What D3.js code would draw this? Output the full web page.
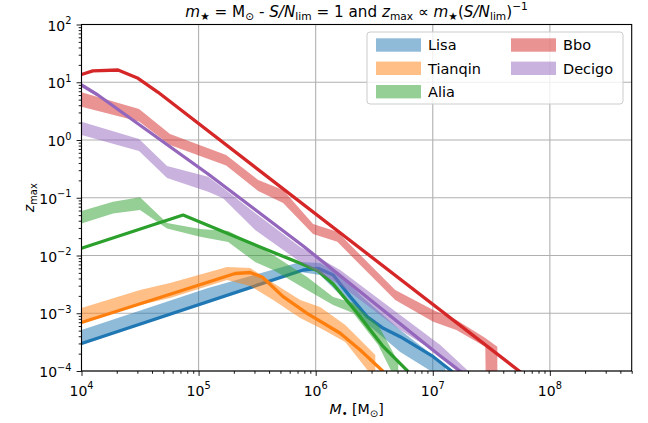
<!DOCTYPE html>
<html><head><meta charset="utf-8">
<script src="https://cdn.jsdelivr.net/npm/d3@7"></script>
<style>body{margin:0;background:#fff} text{font-family:"DejaVu Sans",sans-serif;fill:#000}</style>
</head><body><svg id="c" width="648" height="423"></svg>
<script>
// ---------- data ----------
const lisaBandX = [1e4, 1.205e5, 7.38e5, 1.09e6, 1.62e6, 2.40e6, 5.27e6, 1.28e7];
const lisaLo    = [2.82e-4, 0.00163, 0.00518, 0.00459, 0.00207, 8.28e-4, 2.13e-4, 6.98e-5];
const lisaHi    = [5.13e-4, 0.00274, 0.0077, 0.00741, 0.00459, 0.00207, 5.13e-4, 1.27e-4];
const lisaLineX = [1e4, 7.82e5, 1.05e6, 1.41e6, 1.97e6, 2.76e6, 3.78e6, 5.27e6, 1.01e7, 1.47e7];
const lisaLineY = [2.99e-4, 0.00561, 0.0060, 0.00459, 0.00194, 8.71e-4, 5.48e-4, 3.93e-4, 1.77e-4, 9.73e-5];

const tianqinBandX = [1e4, 3.16e4, 5.7e4, 1.75e5, 2.76e5, 4.34e5, 7.38e5, 1.09e6, 1.79e6, 3.23e6];
const tianqinLo    = [6.78e-4, 0.00139, 0.00184, 0.00377, 0.00296, 0.0017, 8.28e-4, 5.56e-4, 3.18e-4, 6.98e-5];
const tianqinHi    = [0.00123, 0.00253, 0.00334, 0.00632, 0.00608, 0.00334, 0.0017, 0.00128, 6.26e-4, 1.89e-4];
const tianqinLineX = [1e4, 2.05e5, 2.76e5, 3.49e5, 5.27e5, 8.45e5, 1.62e6, 2.40e6, 3.79e6];
const tianqinLineY = [6.92e-4, 0.00488, 0.00508, 0.00425, 0.00194, 9.98e-4, 4.50e-4, 2.31e-4, 9.73e-5];

const aliaBandX = [1e4, 1.86e4, 3.16e4, 5.38e4, 1.03e5, 1.79e5, 3.04e5, 4.34e5, 8.45e5, 1.41e6, 2.09e6, 3.42e6, 5.07e6];
const aliaLo    = [0.0358, 0.0533, 0.0614, 0.0294, 0.0212, 0.01714, 0.0077, 0.00561, 0.00253, 0.00139, 0.00101, 2.82e-4, 5.73e-5];
const aliaHi    = [0.059, 0.0855, 0.1018, 0.0366, 0.0288, 0.0265, 0.0152, 0.0102, 0.00425, 0.00191, 0.0015, 6.26e-4, 1.43e-4];
const aliaLineX = [1e4, 7.37e4, 3.56e5, 7.38e5, 1.05e6, 1.41e6, 2.26e6, 3.78e6, 6.18e6];
const aliaLineY = [0.01333, 0.0502, 0.01333, 0.00733, 0.0054, 0.00321, 0.00101, 2.64e-4, 9.73e-5];

const bboBandX = [1e4, 3.10e4, 5.7e4, 1.72e5, 3.23e5, 5.27e5, 9.5e5, 1.53e6, 2.18e6, 4.78e6, 1.01e7, 1.59e7, 2.81e7, 3.56e7];
const bboLo    = [3.77, 2.09, 0.82, 0.361, 0.131, 0.081, 0.0236, 0.0173, 0.00836, 0.00170, 7.14e-4, 5.13e-4, 2.64e-4, 1e-20];
const bboHi    = [6.70, 3.44, 1.27, 0.55, 0.203, 0.136, 0.0351, 0.0258, 0.01245, 0.00253, 0.001138, 7.64e-4, 3.73e-4, 2.64e-4];
const bboLineX = [1e4, 1.25e4, 2.05e4, 3.04e4, 4.51e4, 8.3e7];
const bboLineY = [13.6, 15.7, 16.3, 11.7, 6.7, 5.2e-5];

const decigoBandX = [1e4, 3.1e4, 5.38e4, 1.205e5, 1.62e5, 3.04e5, 7.38e5, 1.62e6, 5.27e6, 1.16e7, 2.01e7];
const decigoLo    = [1.22, 0.645, 0.220, 0.127, 0.0977, 0.0277, 0.00771, 0.00308, 5.13e-4, 1.89e-4, 6.98e-5];
const decigoHi    = [2.07, 1.04, 0.355, 0.232, 0.1476, 0.0545, 0.01403, 0.00561, 9.33e-4, 2.82e-4, 1e-4];
const decigoLineX = [1e4, 1.38e4, 1.205e5, 7.82e5, 1.16e7, 2.09e7];
const decigoLineY = [8.96, 6.01, 0.258, 0.0146, 1.82e-4, 7.26e-5];

const seriesNames  = ["Lisa", "Tianqin", "Alia", "Bbo", "Decigo"];
const seriesColors = ["#1f77b4", "#ff7f0e", "#2ca02c", "#d62728", "#9467bd"];
const xMajorTicks = [1e4, 1e5, 1e6, 1e7, 1e8];
const xMajorExp   = ["4", "5", "6", "7", "8"];
const yMajorTicks = [1e-4, 1e-3, 1e-2, 1e-1, 1e0, 1e1, 1e2];
const yMajorExp   = ["\u22124", "\u22123", "\u22122", "\u22121", "0", "1", "2"];

// ---------- layout ----------
const W = 648, H = 423;
const P = {l: 81.5, r: 631.7, t: 24.5, b: 371};
const x = d3.scaleLog().domain([1e4, 5e8]).range([P.l, P.r]);
const y = d3.scaleLog().domain([1e-4, 1e2]).range([P.b, P.t]);
const svg = d3.select("#c");
svg.append("rect").attr("width", W).attr("height", H).attr("fill", "#fff");
svg.append("defs").append("clipPath").attr("id", "clip")
  .append("rect").attr("x", P.l).attr("y", P.t).attr("width", P.r - P.l).attr("height", P.b - P.t);

// grid
const g = svg.append("g");
g.selectAll(".gx").data(xMajorTicks).join("line")
  .attr("x1", d => x(d)).attr("x2", d => x(d)).attr("y1", P.t).attr("y2", P.b)
  .attr("stroke", "#b0b0b0").attr("stroke-width", 1.1);
g.selectAll(".gy").data(yMajorTicks).join("line")
  .attr("x1", P.l).attr("x2", P.r).attr("y1", d => y(d)).attr("y2", d => y(d))
  .attr("stroke", "#b0b0b0").attr("stroke-width", 1.1);

// series
const series = [
  {bx: lisaBandX, lo: lisaLo, hi: lisaHi, lx: lisaLineX, ly: lisaLineY},
  {bx: tianqinBandX, lo: tianqinLo, hi: tianqinHi, lx: tianqinLineX, ly: tianqinLineY},
  {bx: aliaBandX, lo: aliaLo, hi: aliaHi, lx: aliaLineX, ly: aliaLineY},
  {bx: bboBandX, lo: bboLo, hi: bboHi, lx: bboLineX, ly: bboLineY},
  {bx: decigoBandX, lo: decigoLo, hi: decigoHi, lx: decigoLineX, ly: decigoLineY}
];
const plot = svg.append("g").attr("clip-path", "url(#clip)");
const area = d3.area().x(d => x(d[0])).y0(d => y(d[1])).y1(d => y(d[2]));
const line = d3.line().x(d => x(d[0])).y(d => y(d[1]));
series.forEach((s, i) => {
  const bd = s.bx.map((v, k) => [v, s.lo[k], s.hi[k]]);
  plot.append("path").attr("d", area(bd)).attr("fill", seriesColors[i]).attr("fill-opacity", 0.5);
  const ld = s.lx.map((v, k) => [v, s.ly[k]]);
  plot.append("path").attr("d", line(ld)).attr("fill", "none").attr("stroke", seriesColors[i])
    .attr("stroke-width", 3.3).attr("stroke-linejoin", "round").attr("stroke-linecap", "butt");
});

// minor ticks
const xMinor = [], yMinor = [];
for (let e = 4; e <= 8; e++) for (let k = 2; k <= 9; k++) { const v = k * Math.pow(10, e); if (v <= 5e8) xMinor.push(v); }
for (let e = -4; e <= 1; e++) for (let k = 2; k <= 9; k++) yMinor.push(k * Math.pow(10, e));

const ax = svg.append("g").attr("transform", `translate(0,${P.b})`);
ax.call(d3.axisBottom(x).tickValues(xMinor).tickSize(2.8).tickSizeOuter(0).tickFormat(""));
ax.call(g2 => g2.append("g").call(d3.axisBottom(x).tickValues(xMajorTicks).tickSize(4.9).tickSizeOuter(0).tickFormat("")));
const ay = svg.append("g").attr("transform", `translate(${P.l},0)`);
ay.call(d3.axisLeft(y).tickValues(yMinor).tickSize(2.8).tickSizeOuter(0).tickFormat(""));
ay.call(g2 => g2.append("g").call(d3.axisLeft(y).tickValues(yMajorTicks).tickSize(4.9).tickSizeOuter(0).tickFormat("")));
svg.selectAll(".domain").remove();
svg.selectAll(".tick line").attr("stroke", "#000").attr("stroke-width", 0.9);

// spines
svg.append("rect").attr("x", P.l).attr("y", P.t).attr("width", P.r - P.l).attr("height", P.b - P.t)
  .attr("fill", "none").attr("stroke", "#000").attr("stroke-width", 1.1);

// tick labels
const FS = 14;
xMajorTicks.forEach((v, i) => {
  const t = svg.append("text").attr("x", x(v)).attr("y", 395.5).attr("text-anchor", "middle").attr("font-size", FS);
  t.append("tspan").text("10");
  t.append("tspan").attr("font-size", FS * 0.7).attr("dy", -6.5).text(xMajorExp[i]);
});
yMajorTicks.forEach((v, i) => {
  const t = svg.append("text").attr("x", P.l - 10).attr("y", y(v) + 6).attr("text-anchor", "end").attr("font-size", FS);
  t.append("tspan").text("10");
  t.append("tspan").attr("font-size", FS * 0.7).attr("dy", -6.5).text(yMajorExp[i]);
});

// rich text helper
function rich(t, parts, fs) {
  let off = 0;
  parts.forEach(p => {
    const [txt, st] = p;
    const ts = t.append("tspan").text(txt);
    let target = 0, size = fs;
    if (st && st.includes("b")) { target = fs * 0.22; size = fs * 0.7; }
    if (st && st.includes("p")) { target = -fs * 0.45; size = fs * 0.7; }
    if (st && st.includes("i")) ts.attr("font-style", "italic");
    ts.attr("font-size", size);
    if (target !== off) { ts.attr("dy", target - off); off = target; }
  });
}
// title
const title = svg.append("text").attr("x", (P.l + P.r) / 2).attr("y", 17).attr("text-anchor", "middle");
rich(title, [["m","i"],["\u2605","b"],[" = M"],["\u2299","b"],[" - "],["S/N","i"],["lim","b"],[" = 1 and "],
  ["z","i"],["max","b"],[" \u221D "],["m","i"],["\u2605","b"],["("],["S/N","i"],["lim","b"],[")"],["\u22121","p"]], 15.2);
// x label
const xl = svg.append("text").attr("x", (P.l + P.r) / 2).attr("y", 413.5).attr("text-anchor", "middle");
rich(xl, [["M","i"],["\u2022","b"],[" [M"],["\u2299","b"],["]"]], 14.2);
// y label
const yl = svg.append("text").attr("transform", `translate(34,${(P.t + P.b) / 2}) rotate(-90)`).attr("text-anchor", "middle");
rich(yl, [["z","i"],["max","b"]], 14.2);

// legend
const lg = svg.append("g");
lg.append("rect").attr("x", 367).attr("y", 32).attr("width", 256).attr("height", 72).attr("rx", 3)
  .attr("fill", "#fff").attr("fill-opacity", 0.8).attr("stroke", "#cccccc").attr("stroke-width", 1);
const legPos = [[376, 45], [376, 68.3], [376, 91.7], [511, 45], [511, 68.3]];
seriesNames.forEach((n, i) => {
  const [lx, lyy] = legPos[i];
  lg.append("rect").attr("x", lx).attr("y", lyy - 6.7).attr("width", 45).attr("height", 13.4)
    .attr("fill", seriesColors[i]).attr("fill-opacity", 0.5);
  lg.append("text").attr("x", lx + 52).attr("y", lyy + 5.2).attr("font-size", 14.5).text(n);
});
</script></body></html>
